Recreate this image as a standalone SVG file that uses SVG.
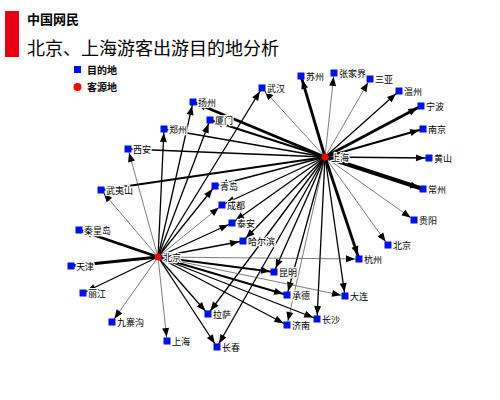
<svg xmlns="http://www.w3.org/2000/svg" width="500" height="400" viewBox="0 0 500 400">
<style>
.e{stroke:#000;fill:none;marker-end:url(#ah)}
.w1{stroke-width:0.7;stroke:#444}
.w2{stroke-width:1.3}
.w3{stroke-width:2}
.w4{stroke-width:2.8}
.w5{stroke-width:4}
.d{fill:#0010e8}
.s{fill:#ff0000}
.lb{font-family:"Noto Sans CJK SC","Liberation Sans",sans-serif;font-size:9px;fill:#000;stroke:#fff;stroke-width:2.5;paint-order:stroke;stroke-linejoin:round}
.hd{font-family:"Noto Sans CJK SC",sans-serif;fill:#000}
</style>
<defs>
<marker id="ah" markerUnits="userSpaceOnUse" markerWidth="14" markerHeight="8" refX="13" refY="3.5" orient="auto" overflow="visible">
<path d="M0,0 L9,3.5 L0,7 z" fill="#000"/>
</marker>
</defs>
<rect width="500" height="400" fill="#fff"/>
<rect x="5" y="11" width="14" height="46" fill="#e60012"/>
<text class="hd" x="27" y="24" font-size="13" font-weight="bold">中国网民</text>
<text class="hd" x="27" y="55" font-size="18">北京、上海游客出游目的地分析</text>
<g id="legend">
<rect class="d" x="74" y="66" width="7" height="7"/>
<text class="hd" x="87" y="74" font-size="10" font-weight="bold">目的地</text>
<circle class="s" cx="77.5" cy="87" r="4"/>
<text class="hd" x="87" y="91" font-size="10" font-weight="bold">客源地</text>
</g>
<g id="connectors">
<!-- Shanghai edges -->
<line class="e w4" x1="325" y1="157" x2="301" y2="76"/>
<line class="e w1" x1="325" y1="157" x2="334" y2="73"/>
<line class="e w1" x1="325" y1="157" x2="370" y2="79"/>
<line class="e w2" x1="325" y1="157" x2="399" y2="91"/>
<line class="e w4" x1="325" y1="157" x2="421" y2="106"/>
<line class="e w3" x1="325" y1="157" x2="423" y2="129"/>
<line class="e w2" x1="325" y1="157" x2="429" y2="158"/>
<line class="e w5" x1="325" y1="157" x2="423" y2="189"/>
<line class="e w1" x1="325" y1="157" x2="414" y2="220"/>
<line class="e w1" x1="325" y1="157" x2="388" y2="245"/>
<line class="e w4" x1="325" y1="157" x2="359" y2="259"/>
<line class="e w1" x1="325" y1="157" x2="262" y2="88"/>
<line class="e w4" x1="325" y1="157" x2="193" y2="102"/>
<line class="e w3" x1="325" y1="157" x2="210" y2="120"/>
<line class="e w2" x1="325" y1="157" x2="164" y2="129"/>
<line class="e w2" x1="325" y1="157" x2="128" y2="149"/>
<line class="e w3" x1="325" y1="157" x2="101" y2="190"/>
<line class="e w2" x1="325" y1="157" x2="215" y2="186"/>
<line class="e w2" x1="325" y1="157" x2="222" y2="205"/>
<line class="e w2" x1="325" y1="157" x2="232" y2="223"/>
<line class="e w2" x1="325" y1="157" x2="243" y2="241"/>
<line class="e w2" x1="325" y1="157" x2="274" y2="272"/>
<line class="e w2" x1="325" y1="157" x2="287" y2="295"/>
<line class="e w2" x1="325" y1="157" x2="345" y2="296"/>
<line class="e w2" x1="325" y1="157" x2="317" y2="319"/>
<line class="e w1" x1="325" y1="157" x2="287" y2="325"/>
<line class="e w2" x1="325" y1="157" x2="208" y2="314"/>
<line class="e w2" x1="325" y1="157" x2="217" y2="347"/>
<!-- Beijing edges -->
<line class="e w2" x1="158" y1="257" x2="262" y2="88"/>
<line class="e w2" x1="158" y1="257" x2="193" y2="102"/>
<line class="e w2" x1="158" y1="257" x2="210" y2="120"/>
<line class="e w2" x1="158" y1="257" x2="164" y2="129"/>
<line class="e w1" x1="158" y1="257" x2="128" y2="149"/>
<line class="e w1" x1="158" y1="257" x2="101" y2="190"/>
<line class="e w4" x1="158" y1="257" x2="79" y2="230"/>
<line class="e w4" x1="158" y1="257" x2="71" y2="266"/>
<line class="e w2" x1="158" y1="257" x2="83" y2="293"/>
<line class="e w1" x1="158" y1="257" x2="112" y2="322"/>
<line class="e w1" x1="158" y1="257" x2="167" y2="341"/>
<line class="e w2" x1="158" y1="257" x2="215" y2="186"/>
<line class="e w1" x1="158" y1="257" x2="222" y2="205"/>
<line class="e w2" x1="158" y1="257" x2="232" y2="223"/>
<line class="e w2" x1="158" y1="257" x2="243" y2="241"/>
<line class="e w1" x1="158" y1="257" x2="359" y2="259"/>
<line class="e w3" x1="158" y1="257" x2="274" y2="272"/>
<line class="e w3" x1="158" y1="257" x2="287" y2="295"/>
<line class="e w1" x1="158" y1="257" x2="345" y2="296"/>
<line class="e w2" x1="158" y1="257" x2="317" y2="319"/>
<line class="e w2" x1="158" y1="257" x2="287" y2="325"/>
<line class="e w2" x1="158" y1="257" x2="208" y2="314"/>
<line class="e w2" x1="158" y1="257" x2="217" y2="347"/>
</g>
<g id="n-wuhan"><rect class="d" x="258.5" y="84.5" width="7" height="7"/><text class="lb" x="267" y="91.5">武汉</text></g>
<g id="n-suzhou"><rect class="d" x="297.5" y="72.5" width="7" height="7"/><text class="lb" x="306" y="79.5">苏州</text></g>
<g id="n-zhangjiajie"><rect class="d" x="330.5" y="69.5" width="7" height="7"/><text class="lb" x="339" y="76.5">张家界</text></g>
<g id="n-sanya"><rect class="d" x="366.5" y="75.5" width="7" height="7"/><text class="lb" x="375" y="82.5">三亚</text></g>
<g id="n-wenzhou"><rect class="d" x="395.5" y="87.5" width="7" height="7"/><text class="lb" x="404" y="94.5">温州</text></g>
<g id="n-ningbo"><rect class="d" x="417.5" y="102.5" width="7" height="7"/><text class="lb" x="426" y="109.5">宁波</text></g>
<g id="n-nanjing"><rect class="d" x="419.5" y="125.5" width="7" height="7"/><text class="lb" x="428" y="132.5">南京</text></g>
<g id="n-huangshan"><rect class="d" x="425.5" y="154.5" width="7" height="7"/><text class="lb" x="434" y="161.5">黄山</text></g>
<g id="n-changzhou"><rect class="d" x="419.5" y="185.5" width="7" height="7"/><text class="lb" x="428" y="192.5">常州</text></g>
<g id="n-guiyang"><rect class="d" x="410.5" y="216.5" width="7" height="7"/><text class="lb" x="419" y="223.5">贵阳</text></g>
<g id="n-beijing-d"><rect class="d" x="384.5" y="241.5" width="7" height="7"/><text class="lb" x="393" y="248.5">北京</text></g>
<g id="n-hangzhou"><rect class="d" x="355.5" y="255.5" width="7" height="7"/><text class="lb" x="364" y="262.5">杭州</text></g>
<g id="n-yangzhou"><rect class="d" x="189.5" y="98.5" width="7" height="7"/><text class="lb" x="198" y="105.5">扬州</text></g>
<g id="n-xiamen"><rect class="d" x="206.5" y="116.5" width="7" height="7"/><text class="lb" x="215" y="123.5">厦门</text></g>
<g id="n-zhengzhou"><rect class="d" x="160.5" y="125.5" width="7" height="7"/><text class="lb" x="169" y="132.5">郑州</text></g>
<g id="n-xian"><rect class="d" x="124.5" y="145.5" width="7" height="7"/><text class="lb" x="133" y="152.5">西安</text></g>
<g id="n-wuyishan"><rect class="d" x="97.5" y="186.5" width="7" height="7"/><text class="lb" x="106" y="193.5">武夷山</text></g>
<g id="n-qingdao"><rect class="d" x="211.5" y="182.5" width="7" height="7"/><text class="lb" x="220" y="189.5">青岛</text></g>
<g id="n-chengdu"><rect class="d" x="218.5" y="201.5" width="7" height="7"/><text class="lb" x="227" y="208.5">成都</text></g>
<g id="n-taian"><rect class="d" x="228.5" y="219.5" width="7" height="7"/><text class="lb" x="237" y="226.5">泰安</text></g>
<g id="n-haerbin"><rect class="d" x="239.5" y="237.5" width="7" height="7"/><text class="lb" x="248" y="244.5">哈尔滨</text></g>
<g id="n-kunming"><rect class="d" x="270.5" y="268.5" width="7" height="7"/><text class="lb" x="279" y="275.5">昆明</text></g>
<g id="n-chengde"><rect class="d" x="283.5" y="291.5" width="7" height="7"/><text class="lb" x="292" y="298.5">承德</text></g>
<g id="n-dalian"><rect class="d" x="341.5" y="292.5" width="7" height="7"/><text class="lb" x="350" y="299.5">大连</text></g>
<g id="n-changsha"><rect class="d" x="313.5" y="315.5" width="7" height="7"/><text class="lb" x="322" y="322.5">长沙</text></g>
<g id="n-jinan"><rect class="d" x="283.5" y="321.5" width="7" height="7"/><text class="lb" x="292" y="328.5">济南</text></g>
<g id="n-lasa"><rect class="d" x="204.5" y="310.5" width="7" height="7"/><text class="lb" x="213" y="317.5">拉萨</text></g>
<g id="n-changchun"><rect class="d" x="213.5" y="343.5" width="7" height="7"/><text class="lb" x="222" y="350.5">长春</text></g>
<g id="n-qinhuangdao"><rect class="d" x="75.5" y="226.5" width="7" height="7"/><text class="lb" x="84" y="233.5">秦皇岛</text></g>
<g id="n-tianjin"><rect class="d" x="67.5" y="262.5" width="7" height="7"/><text class="lb" x="76" y="269.5">天津</text></g>
<g id="n-lijiang"><rect class="d" x="79.5" y="289.5" width="7" height="7"/><text class="lb" x="88" y="296.5">丽江</text></g>
<g id="n-jiuzhaigou"><rect class="d" x="108.5" y="318.5" width="7" height="7"/><text class="lb" x="117" y="325.5">九寨沟</text></g>
<g id="n-shanghai-d"><rect class="d" x="163.5" y="337.5" width="7" height="7"/><text class="lb" x="172" y="344.5">上海</text></g>
<g id="n-shanghai"><circle class="s" cx="325" cy="157" r="3.5"/><text class="lb" x="331" y="160.5">上海</text></g>
<g id="n-beijing"><circle class="s" cx="158" cy="257" r="3.5"/><text class="lb" x="163" y="260.5">北京</text></g>
</svg>
